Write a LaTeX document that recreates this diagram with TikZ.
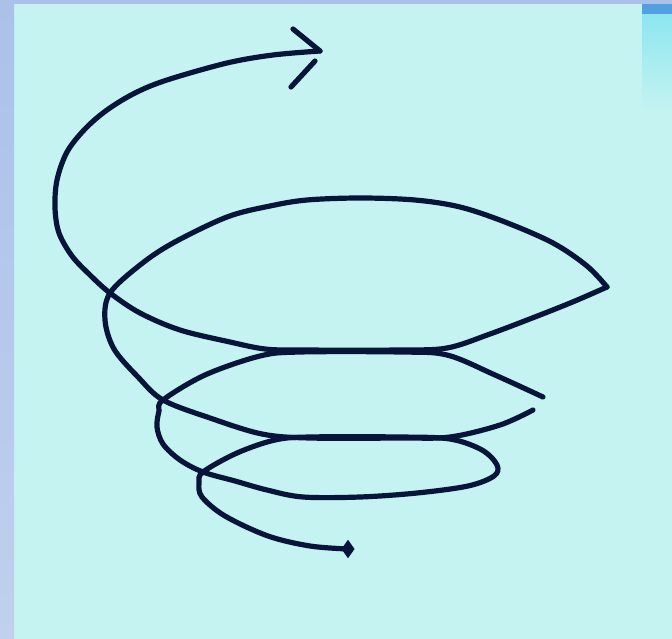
\documentclass[tikz,border=0pt]{standalone}
\usetikzlibrary{shapes.geometric}
\definecolor{bgcyan}{RGB}{196,243,241}
\definecolor{lav}{RGB}{171,193,234}
\definecolor{lavlow}{RGB}{192,208,238}
\definecolor{ink}{RGB}{8,20,58}
\definecolor{tabdark}{RGB}{84,160,222}
\definecolor{tabcyan}{RGB}{140,230,240}
\tikzset{
  spiral/.style={draw=ink, line width=3.9pt, line cap=round, line join=round},
  tipdot/.style={diamond, fill=ink, inner sep=0pt, minimum width=10pt, minimum height=14pt}
}
\begin{document}
\begin{tikzpicture}[x=0.75pt, y=-0.75pt]
\useasboundingbox (0,0) rectangle (672,639);
% background
\fill[bgcyan] (0,0) rectangle (672,639);
\shade[top color=lav, bottom color=lavlow] (0,0) rectangle (14,639);
\fill[lav] (0,0) rectangle (672,3.5);
\shade[top color=tabcyan, bottom color=bgcyan] (642,14) rectangle (672,110);
\fill[tabdark] (642,3.5) rectangle (672,14);
% crossing points
\coordinate (B) at (203,472);
\coordinate (A) at (163,400);
\coordinate (C) at (110,293);
\coordinate (start) at (348,549);
\coordinate (tip) at (320,51);
% lower spiral: tail, bottom loop, left side up to A, back of middle loop
\draw[spiral] plot[smooth, tension=0.55] coordinates {
  (start) (310,546) (268,536) (225,516) (202,497) (199,483) (B)
  (237,453) (275,440) (310,437) (400,437) (450,439) (482,450) (497,465)
  (494,476) (468,486) (417,493) (360,497) (303,497) (267,490) (235,481) (B)
  (180,460) (163,444) (157,427) (159,411) (A)
  (205,375) (260,356) (300,352) (400,352) (447,355) (495,375) (543,397)};
% front of middle loop, left side up to C, back of top loop
\draw[spiral] plot[smooth, tension=0.55] coordinates {
  (533,410) (500,425) (450,437) (400,438) (310,438) (262,434) (210,418) (A)
  (138,377) (114,349) (105,320) (C)
  (140,265) (173,243) (227,217) (270,206) (307,200) (360,198) (415,200)
  (460,207) (505,222) (553,243) (587,266) (607,287)};
% front of top loop and the big arc to the arrow
\draw[spiral] plot[smooth, tension=0.55] coordinates {
  (607,287) (575,301) (540,315) (490,334) (447,348) (400,350) (300,350) (265,349)
  (230,342) (180,330) (140,313) (C)
  (90,275) (72,256) (59,233) (55,208) (57,180) (67,152) (85,129) (107,110)
  (135,93) (167,80) (227,63) (273,55) (tip)};
% arrow head
\coordinate (armtop) at (293,29);
\coordinate (armlowa) at (315,61);
\coordinate (armlowb) at (291,87);
\draw[spiral] (armtop) -- (tip);
\draw[spiral] (armlowa) -- (armlowb);
% tail dot
\node[tipdot] (dot) at (start) {};
\end{tikzpicture}
\end{document}
